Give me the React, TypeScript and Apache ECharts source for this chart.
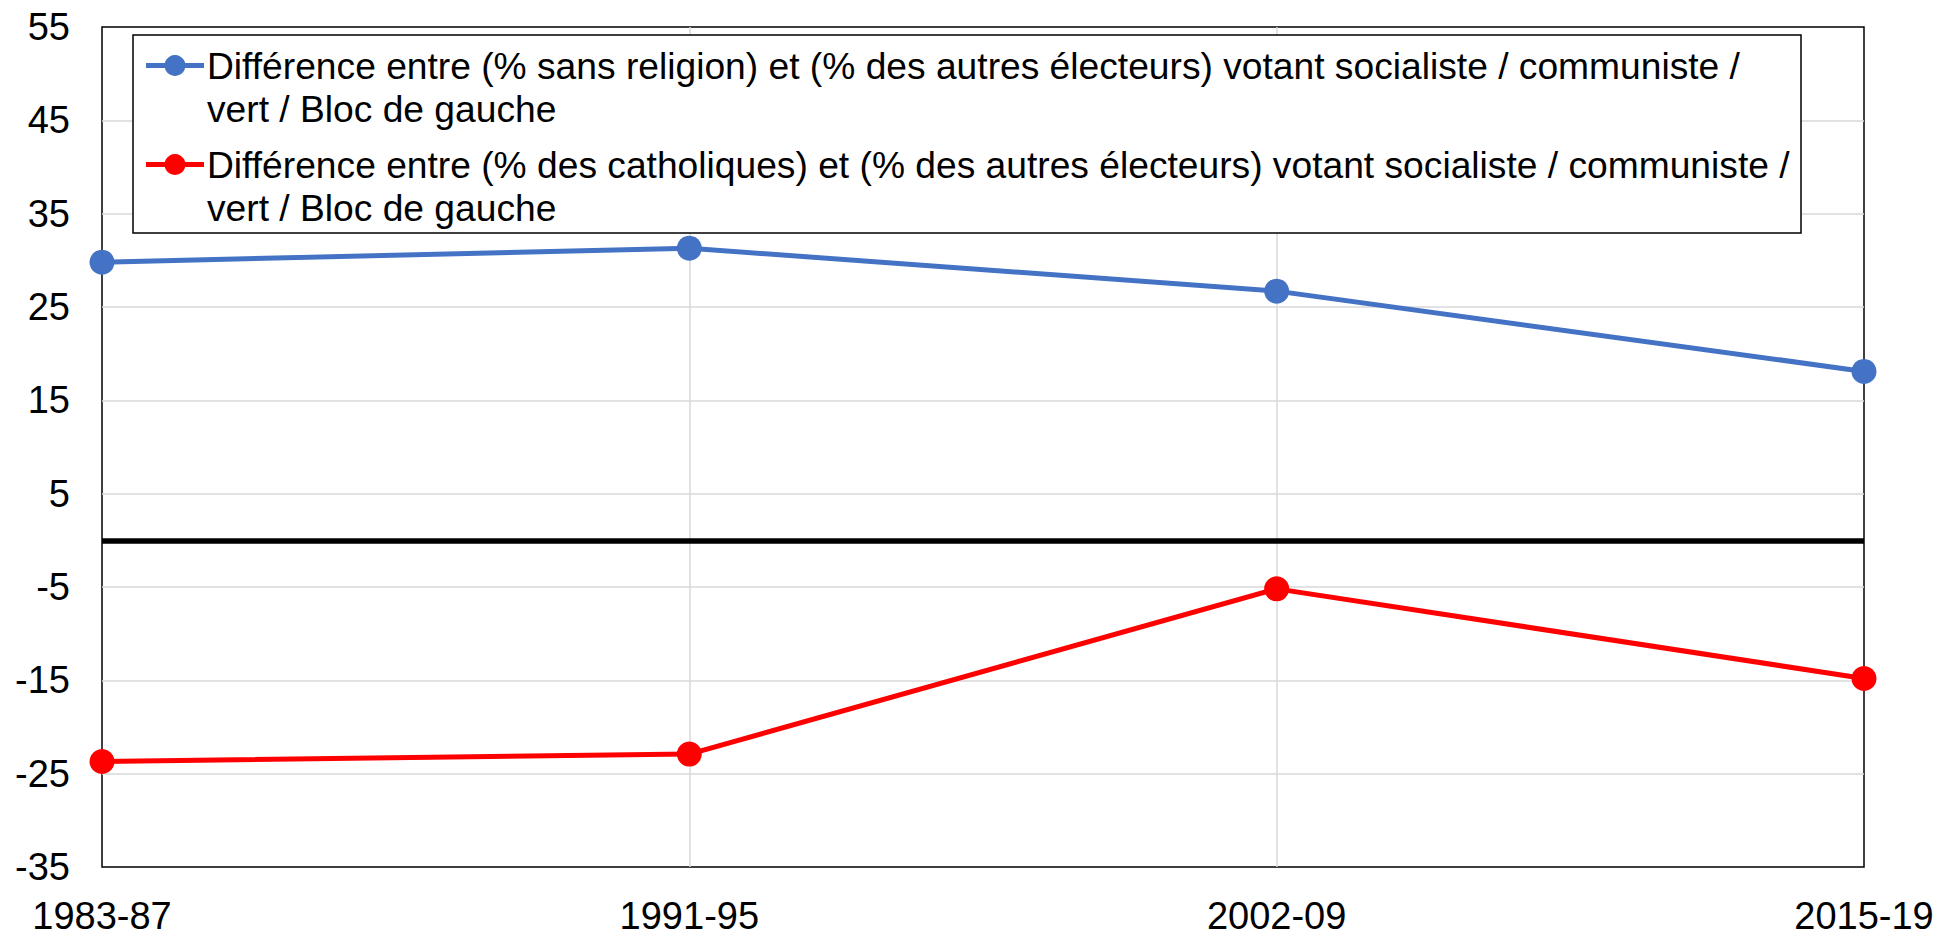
import React, { useEffect, useRef } from "react";
import * as echarts from "echarts";

const categories = ["1983-87", "1991-95", "2002-09", "2015-19"];
const sansReligion = [29.8, 31.3, 26.7, 18.1];
const catholiques = [-23.7, -22.9, -5.2, -14.8];
const seriesNames = [
  "Différence entre (% sans religion) et (% des autres électeurs) votant socialiste / communiste /\nvert / Bloc de gauche",
  "Différence entre (% des catholiques) et (% des autres électeurs) votant socialiste / communiste /\nvert / Bloc de gauche",
];
const seriesColors = ["#4472C4", "#FF0000"];
const yMin = -35;
const yMax = 55;
const yStep = 10;

const FONT = '"Liberation Sans", Arial, sans-serif';

export default function App() {
  const ref = useRef<HTMLDivElement>(null);
  useEffect(() => {
    if (!ref.current) return;
    const chart = echarts.init(ref.current, null, { renderer: "svg" });
    const legendX = 133;
    const legendY = 35;
    const legendW = 1801 - 133;
    const legendH = 233 - 35;
    const itemGap = 99;
    const legendItems: any[] = [];
    seriesNames.forEach((name, i) => {
      const cy = 65.5 + i * itemGap;
      legendItems.push(
        {
          type: "line",
          shape: { x1: 146, y1: cy, x2: 204, y2: cy },
          style: { stroke: seriesColors[i], lineWidth: 5 },
          z: 101,
        },
        {
          type: "circle",
          shape: { cx: 175, cy, r: 10.5 },
          style: { fill: seriesColors[i] },
          z: 102,
        },
        {
          type: "text",
          x: 207,
          y: cy - 21.5,
          style: {
            text: name,
            fill: "#000",
            font: `37.2px ${FONT}`,
            lineHeight: 43,
            verticalAlign: "top",
            align: "left",
          },
          z: 102,
        }
      );
    });
    chart.setOption({
      animation: false,
      backgroundColor: "#fff",
      grid: {
        left: 102,
        right: 73,
        top: 27,
        bottom: 71,
        show: true,
        borderColor: "#000",
        borderWidth: 1.5,
        backgroundColor: "transparent",
      },
      xAxis: {
        type: "category",
        data: categories,
        boundaryGap: false,
        axisLine: { show: false },
        axisTick: { show: false },
        axisLabel: {
          color: "#000",
          fontSize: 38,
          fontFamily: FONT,
          lineHeight: 38,
          margin: 30,
        },
        splitLine: {
          show: true,
          showMinLine: false,
          showMaxLine: false,
          lineStyle: { color: "#d9d9d9", width: 1.5 },
        },
      },
      yAxis: {
        type: "value",
        min: yMin,
        max: yMax,
        interval: yStep,
        axisLine: { show: false },
        axisTick: { show: false },
        axisLabel: {
          color: "#000",
          fontSize: 38,
          fontFamily: FONT,
          margin: 32,
        },
        splitLine: {
          show: true,
          showMinLine: false,
          showMaxLine: false,
          lineStyle: { color: "#d9d9d9", width: 1.5 },
        },
      },
      legend: { show: false },
      series: [
        {
          name: seriesNames[0],
          type: "line",
          data: sansReligion,
          symbol: "circle",
          symbolSize: 25,
          clip: false,
          itemStyle: { color: seriesColors[0] },
          lineStyle: { color: seriesColors[0], width: 5 },
          z: 5,
          markLine: {
            silent: true,
            symbol: ["none", "none"],
            label: { show: false },
            lineStyle: { color: "#000", width: 5.5, type: "solid" },
            data: [{ yAxis: 0 }],
            z: 3,
          },
        },
        {
          name: seriesNames[1],
          type: "line",
          data: catholiques,
          symbol: "circle",
          symbolSize: 25,
          clip: false,
          itemStyle: { color: seriesColors[1] },
          lineStyle: { color: seriesColors[1], width: 5 },
          z: 5,
        },
      ],
      graphic: [
        {
          type: "rect",
          shape: { x: legendX, y: legendY, width: legendW, height: legendH },
          style: { fill: "#fff", stroke: "#000", lineWidth: 1.5 },
          z: 100,
        },
        ...legendItems,
      ],
    });
    return () => chart.dispose();
  }, []);
  return (
    <div
      ref={ref}
      style={{ position: "fixed", left: 0, top: 0, width: "1937px", height: "938px" }}
    />
  );
}
